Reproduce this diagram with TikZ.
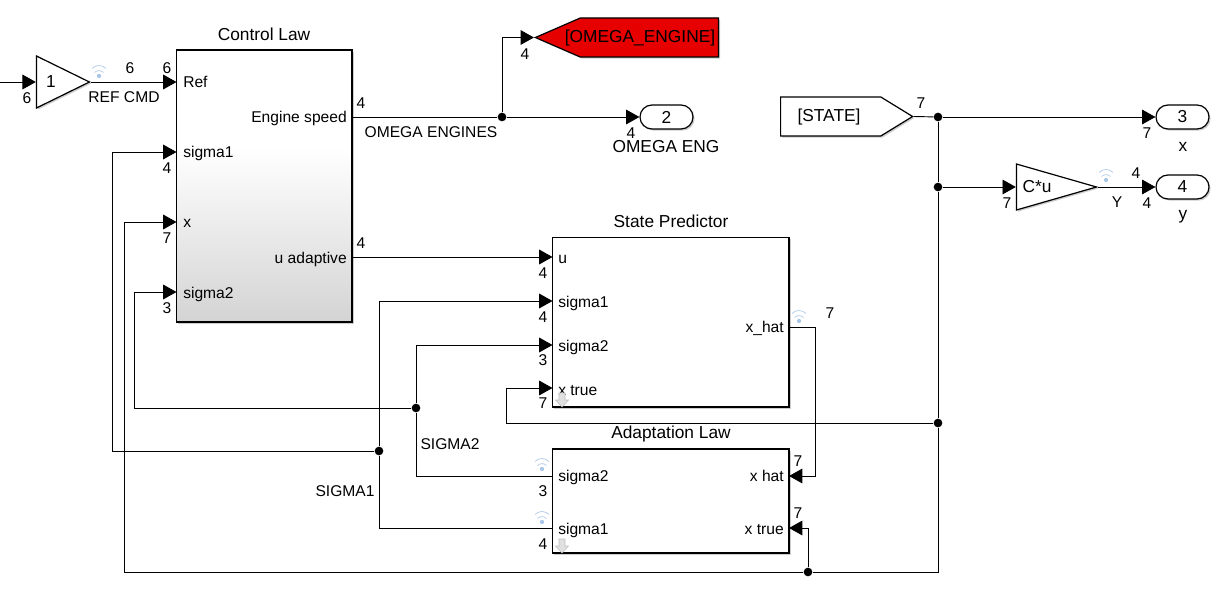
\documentclass[tikz,border=0pt]{standalone}
\usepackage{fontspec}
\setmainfont{Liberation Sans}
\usetikzlibrary{arrows.meta}
\usetikzlibrary{shapes.geometric, shapes.symbols, shapes.misc}
\usetikzlibrary{shadows}
\definecolor{wifiblue}{HTML}{A9C6E6}
\definecolor{gotored}{HTML}{E60000}
\pgfdeclareverticalshading{lawshade}{100bp}{color(0bp)=(black!17); color(25bp)=(black!17); color(57bp)=(white); color(100bp)=(white)}
\tikzset{
  sh/.style = {drop shadow = {opacity = 0.4, shadow xshift = 1.2pt, shadow yshift = -1.2pt}},
  blk/.style = {draw, line width = 0.9pt, fill = white, inner sep = 0, sh},
  tri/.style = {blk, isosceles triangle, isosceles triangle stretches, anchor = apex},
  tag/.style = {blk, signal, signal to = #1},
  oport/.style = {blk, rounded rectangle, minimum width = 39.75pt, minimum height = 18pt, font = \fontsize{13pt}{13pt}\selectfont},
  sig/.style = {line width = 0.7pt},
  arr/.style = {sig, -{Triangle[length = 10pt, width = 11pt]}},
  circ/.style = {fill, circle, inner sep = 0, minimum size = 6.5pt},
  dim/.style = {font = \fontsize{11.7pt}{11.7pt}\selectfont, inner sep = 0},
  big/.style = {font = \fontsize{13pt}{13pt}\selectfont, inner sep = 0},
  wifi/.pic = {
    \fill [wifiblue] (0, 0) circle (1.6pt);
    \draw [wifiblue, line width = 0.5pt] (-4.5, -3.5) .. controls (-2, -6) and (2, -6) .. (4.5, -3.5);
    \draw [wifiblue, line width = 0.5pt] (-7, -7.5) .. controls (-3, -11.5) and (3, -11.5) .. (7, -7.5);
  },
  downarr/.pic = {
    \draw [black!25, fill = black!12, line width = 0.4pt] (-3, -7) -- (3, -7) -- (3, 0) -- (6.5, 0) -- (0, 7) -- (-6.5, 0) -- (-3, 0) -- cycle;
  }
}

\begin{document}
\begin{tikzpicture}[x=0.75pt, y=-0.75pt]
    \useasboundingbox (0, 0) rectangle (1226, 595);

    % blocks
    \node [blk, minimum width = 131.6pt, minimum height = 204pt, shade, shading = lawshade] (law) at (264.25, 186) {};
    \node [blk, minimum width = 177.4pt, minimum height = 127.1pt] (pred) at (670.75, 322.25) {};
    \node [blk, minimum width = 177.4pt, minimum height = 78pt] (adapt) at (670.75, 501) {};
    \node [big] (lawName) at (264, 34) {Control Law};
    \node [big] (predName) at (671, 221) {State Predictor};
    \node [big] (adaptName) at (671, 434) {Adaptation Law};

    \node [tri, minimum width = 39pt, minimum height = 39.75pt] (gain) at (91, 82) {};
    \node [big] (gainTxt) at (51, 82) {1};
    \node [tri, minimum width = 34.5pt, minimum height = 60pt] (cmat) at (1098, 187) {};
    \node [big] (cmatTxt) at (1037, 187) {C*u};

    \node [tag = west, fill = gotored, signal pointer angle = 47, minimum width = 137.25pt, minimum height = 29.25pt, anchor = east] (goto) at (719, 37.5) {};
    \node [big] (gotoTxt) at (640, 38) {[OMEGA\_ENGINE]};
    \node [tag = east, signal pointer angle = 63, minimum width = 99pt, minimum height = 29.25pt, anchor = west] (from) at (780, 116.5) {};
    \node [big] (fromTxt) at (829, 117) {[STATE]};

    \node [oport] (out2) at (666.5, 117) {2};
    \node [oport] (out3) at (1182.5, 117) {3};
    \node [oport] (out4) at (1182.5, 187) {4};

    % ports
    \coordinate (inA) at (0, 82);
    \coordinate (lawRef) at (176.5, 82);
    \coordinate (lawSa) at (176.5, 152);
    \coordinate (lawX) at (176.5, 222);
    \coordinate (lawSb) at (176.5, 292);
    \coordinate (lawEng) at (352, 117);
    \coordinate (lawU) at (352, 257);
    \coordinate (predU) at (552.5, 257);
    \coordinate (predSa) at (552.5, 301);
    \coordinate (predSb) at (552.5, 345);
    \coordinate (predX) at (552.5, 388);
    \coordinate (predHat) at (789, 327);
    \coordinate (adaptSb) at (552.5, 476);
    \coordinate (adaptSa) at (552.5, 528);
    \coordinate (adaptHat) at (789, 476);
    \coordinate (adaptX) at (789, 528);

    % junctions
    \node [circ] (jEng) at (502, 117) {};
    \node [circ] (jState) at (938, 117) {};
    \node [circ] (jC) at (938, 187) {};
    \node [circ] (jPred) at (938, 423) {};
    \node [circ] (jAdapt) at (808, 572) {};
    \node [circ] (jSb) at (416, 408) {};
    \node [circ] (jSa) at (379, 451) {};

    % signals
    \draw [arr] (inA) -- (gain.west |- inA);
    \draw [arr] (gain.apex) -- (lawRef);
    \draw [sig] (lawEng) -- (jEng);
    \draw [arr] (jEng) -- (out2.west);
    \draw [arr] (jEng) |- (goto.west);
    \draw [sig] (from.east) -- (jState);
    \draw [arr] (jState) -- (out3.west);
    \draw [sig] (jState) -- (jC);
    \draw [sig] (jC) -- (jPred);
    \draw [arr] (jC) -- (cmat.west |- jC);
    \draw [arr] (cmat.apex) -- (out4.west);
    \draw [arr] (lawU) -- (predU);
    \draw [arr] (jPred) -| (506, 388) -- (predX);
    \draw [sig] (jPred) |- (jAdapt);
    \draw [arr] (jAdapt) |- (adaptX);
    \draw [arr] (jAdapt) -| (124, 222) -- (lawX);
    \draw [arr] (predHat) -| (815, 476) -- (adaptHat);
    \draw [arr] (jSb) |- (predSb);
    \draw [sig] (jSb) |- (adaptSb);
    \draw [arr] (jSb) -| (134, 292) -- (lawSb);
    \draw [arr] (jSa) |- (predSa);
    \draw [sig] (jSa) |- (adaptSa);
    \draw [arr] (jSa) -| (112, 152) -- (lawSa);

    % port names
    \foreach \y/\t [count=\i] in {88/Ref, 158/sigma1, 228/x, 298/sigma2} {
      \node [dim, anchor = base west] (lawIn\i) at (183, \y) {\t};
    }
    \foreach \y/\t [count=\i] in {263/u, 307/sigma1, 351/sigma2, 395/x true, 481/sigma2, 534/sigma1} {
      \node [dim, anchor = base west] (predIn\i) at (558, \y) {\t};
    }
    \node [dim, anchor = base east] (lawOutA) at (347, 123) {Engine speed};
    \node [dim, anchor = base east] (lawOutB) at (347, 263) {u adaptive};
    \node [dim, anchor = base east] (predOut) at (784, 332) {x\_hat};
    \node [dim, anchor = base east] (adaptInA) at (784, 481) {x hat};
    \node [dim, anchor = base east] (adaptInB) at (784, 534) {x true};

    % signal names
    \node [dim] (refName) at (124, 97) {REF CMD};
    \node [dim] (engName) at (431, 132) {OMEGA ENGINES};
    \node [dim] (yName) at (1117, 202) {Y};
    \node [dim] (sbName) at (450, 444) {SIGMA2};
    \node [dim] (saName) at (345, 491) {SIGMA1};
    \node [big] (outName) at (666, 147) {OMEGA ENG};
    \node [big] (xName) at (1183, 147) {x};
    \node [big] (yOutName) at (1183, 217) {y};

    % dimensions
    \foreach \x/\y/\t [count=\i] in {27/98/6, 130/68/6, 167/68/6, 167/168/4, 167/238/7, 167/308/3,
        361/103/4, 361/243/4, 525/54/4, 631/133/4, 921/103/7, 1147/133/7, 1136/173/4, 1007/203/7,
        1147/203/4, 543/273/4, 543/317/4, 543/360/3, 543/403/7, 830/313/7, 798/461/7, 798/513/7,
        543/491/3, 543/544/4} {
      \node [dim] (dim\i) at (\x, \y) {\t};
    }

    % logging marks and arrows
    \foreach \x/\y in {99/76, 1106/180, 799/321, 542/469, 542/522} {
      \pic at (\x, \y) {wifi};
    }
    \foreach \y in {400, 546} {
      \pic at (562, \y) {downarr};
    }
  \end{tikzpicture}
\end{document}
